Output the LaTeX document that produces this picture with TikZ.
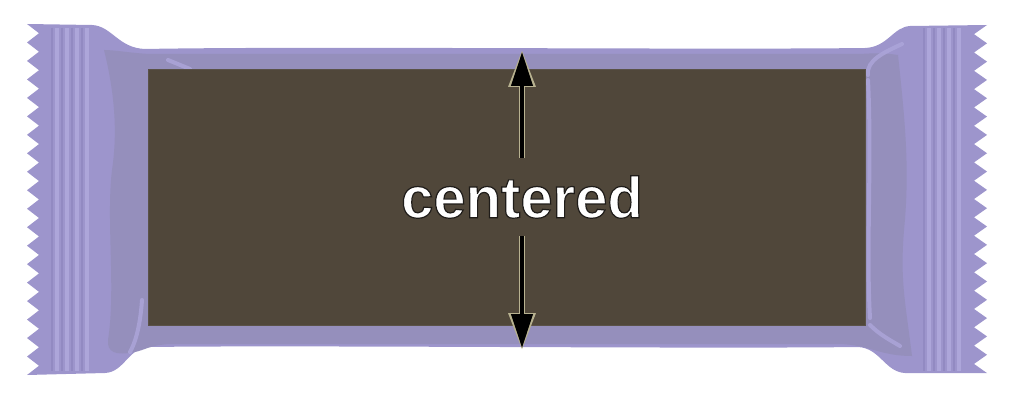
\documentclass[tikz,border=0pt]{standalone}
\usepackage{fontspec}
\setmainfont{Liberation Sans}
\usetikzlibrary{arrows.meta}
\definecolor{wrap}{HTML}{9D95CC}
\definecolor{wrapshade}{HTML}{958FBC}
\definecolor{wraplight}{HTML}{ADA6DA}
\definecolor{wrapdark}{HTML}{928AC2}
\definecolor{choc}{HTML}{50473A}
\definecolor{glow}{HTML}{B8B290}
% white letters with a thin dark edge
\newcommand{\edged}[1]{\special{pdf:literal direct 2 Tr 1.2 w 0.12 0.11 0.1 RG}#1\special{pdf:literal direct 0 Tr}}

\tikzstyle{stripe}=[draw=wraplight,line width=4.5pt]
\tikzstyle{groove}=[draw=wrapdark,line width=2pt]
\tikzstyle{shine}=[draw=wraplight,line width=4pt,line cap=round,opacity=0.8]
\tikzstyle{arrow}=[draw=black,line width=4.2pt,-{Triangle[length=34pt,width=21pt]}]
\tikzstyle{halo}=[draw=glow,line width=6.5pt,shorten >=-2pt,-{Triangle[length=37pt,width=26pt]}]
\tikzstyle{label}=[inner sep=0pt,minimum height=78pt,text=white,font=\bfseries\fontsize{58}{60}\selectfont]

\begin{document}
\begin{tikzpicture}[x=1pt,y=-1pt]
	\useasboundingbox (0,0) rectangle (1024,409);
	% wrapper with zigzag ends
	\fill[wrap] (27,24) -- (92,25) .. controls (112,26) and (118,48) .. (145,49)
		.. controls (300,46) and (700,50) .. (865,48)
		.. controls (888,47) and (893,27) .. (910,26) -- (987,25)
		\foreach \i in {1,...,19} { -- ++(-13,9.16) -- ++(13,9.16) }
		-- (905,373) .. controls (885,372) and (880,348) .. (858,347)
		.. controls (700,349) and (300,345) .. (150,347)
		.. controls (128,347) and (125,372) .. (105,373) -- (27,375)
		\foreach \i in {1,...,19} { -- ++(12,-9.237) -- ++(-12,-9.237) } -- cycle;
	% shaded inner part
	\fill[wrapshade] (104,50) .. controls (114,90) and (118,130) .. (112,170)
		.. controls (106,220) and (116,290) .. (108,340)
		.. controls (107,352) and (115,356) .. (135,352)
		.. controls (145,350) and (150,345) .. (170,344) -- (840,344)
		.. controls (870,345) and (880,356) .. (912,356)
		.. controls (905,300) and (900,280) .. (904,230)
		.. controls (910,170) and (905,120) .. (898,55)
		.. controls (885,53) and (875,53) .. (860,54) -- (150,54)
		.. controls (130,53) and (115,50) .. (104,50) -- cycle;
	% crimp stripes
	\foreach \x in {57,67,77,87,929,939,949,959}
		\draw[stripe] (\x,28) -- (\x,371);
	\foreach \x in {51.5,61.5,71.5,81.5,923.5,933.5,943.5,953.5}
		\draw[groove] (\x,28) -- (\x,371);
	% highlights
	\draw[shine] (168,60) -- (190,69);
	\draw[shine] (868,75) .. controls (866,60) and (885,52) .. (902,44);
	\draw[shine] (868,80) .. controls (872,160) and (866,250) .. (870,318);
	\draw[shine] (870,325) .. controls (880,335) and (890,340) .. (900,346);
	\draw[shine] (142,300) .. controls (140,330) and (134,345) .. (130,352);
	% chocolate bar
	\fill[choc] (148,70) rectangle (865,325);
	\draw[choc!80!gray,line width=1pt] (148,70) rectangle (865,325);
	% label and arrows
	\coordinate (top) at (522,52);
	\coordinate (bottom) at (522,348);
	\node[label] (lbl) at (522,197) {\edged{centered}};
	\foreach \source/\dest in {north/top, south/bottom}
		\path[halo] (lbl.\source) -- (\dest);
	\foreach \source/\dest in {north/top, south/bottom}
		\path[arrow] (lbl.\source) -- (\dest);
\end{tikzpicture}
\end{document}
